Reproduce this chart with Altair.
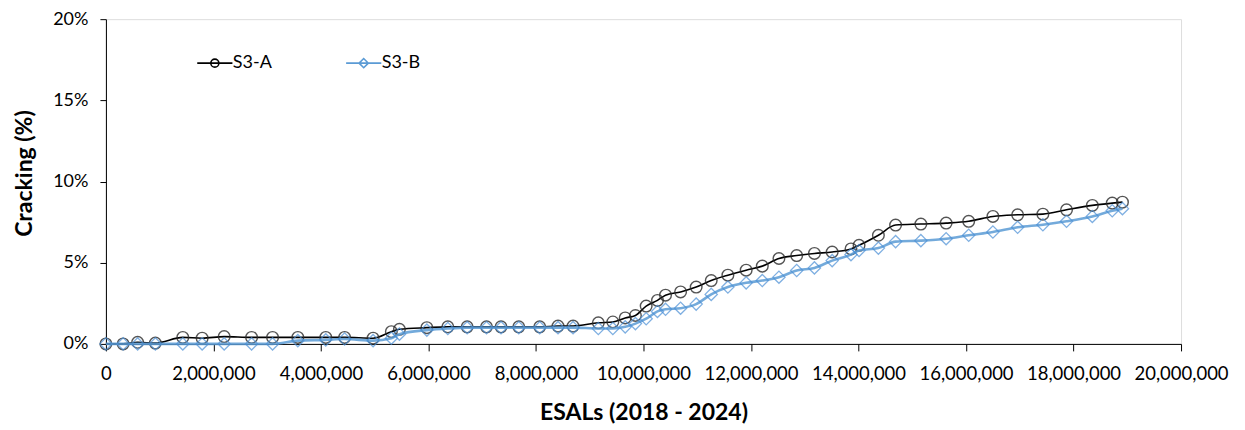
import altair as alt
import pandas as pd

# ESAL values (shared by both series)
esals = [0, 320000, 590000, 920000, 1430000, 1790000, 2200000, 2710000, 3100000,
         3570000, 4090000, 4440000, 4970000, 5310000, 5460000, 5970000, 6360000,
         6720000, 7080000, 7350000, 7680000, 8070000, 8410000, 8690000, 9160000,
         9430000, 9660000, 9850000, 10050000, 10260000, 10410000, 10690000,
         10980000, 11260000, 11570000, 11910000, 12210000, 12520000, 12850000,
         13180000, 13510000, 13860000, 14010000, 14370000, 14690000, 15160000,
         15630000, 16050000, 16500000, 16960000, 17430000, 17870000, 18350000,
         18720000, 18910000]

# Cracking (%) for S3-A
s3a = [0, 0, 0.1, 0.05, 0.4, 0.35, 0.45, 0.4, 0.4, 0.4, 0.4, 0.4, 0.35, 0.75,
       0.9, 1.0, 1.05, 1.05, 1.05, 1.05, 1.05, 1.05, 1.1, 1.1, 1.3, 1.35, 1.6,
       1.75, 2.33, 2.68, 3.0, 3.2, 3.5, 3.9, 4.23, 4.54, 4.79, 5.26, 5.44, 5.57,
       5.66, 5.85, 6.07, 6.69, 7.32, 7.38, 7.44, 7.55, 7.85, 7.95, 7.99, 8.26,
       8.53, 8.67, 8.73]

# Cracking (%) for S3-B
s3b = [0, 0, 0, 0, 0, 0, 0, 0, 0, 0.2, 0.25, 0.3, 0.2, 0.35, 0.6, 0.85, 0.95,
       1.0, 1.0, 1.0, 1.0, 1.0, 1.0, 1.0, 0.95, 0.95, 1.05, 1.25, 1.55, 2.0,
       2.13, 2.2, 2.45, 3.05, 3.5, 3.76, 3.9, 4.11, 4.52, 4.68, 5.13, 5.5, 5.75,
       5.9, 6.3, 6.36, 6.48, 6.69, 6.89, 7.18, 7.34, 7.55, 7.85, 8.2, 8.33]

series_names = ["S3-A", "S3-B"]
series_colors = ["#000000", "#5B9BD5"]
x_ticks = list(range(0, 20000001, 2000000))
y_ticks = [0, 5, 10, 15, 20]

rows = []
for e, a, b in zip(esals, s3a, s3b):
    rows.append({"esal": e, "crack": a, "series": "S3-A"})
    rows.append({"esal": e, "crack": b, "series": "S3-B"})
df = pd.DataFrame(rows)

FONT = "Lato"

x_enc = alt.X(
    "esal:Q",
    scale=alt.Scale(domain=[0, 20000000], nice=False, zero=True),
    axis=alt.Axis(
        values=x_ticks, format=",.0f", title="ESALs (2018 - 2024)", grid=False,
        domainColor="black", tickColor="black", tickSize=7, labelPadding=14,
        labelFont=FONT, labelFontSize=18.5, labelColor="black",
        labelOverlap=False, labelFlush=False, labelBound=False,
        titleFont=FONT, titleFontSize=23, titleFontWeight="bold",
        titleColor="black", titlePadding=18,
    ),
)
y_enc = alt.Y(
    "crack:Q",
    scale=alt.Scale(domain=[0, 20], nice=False),
    axis=alt.Axis(
        values=y_ticks, labelExpr="datum.value + '%'", title="Cracking (%)",
        grid=False, domainColor="black", tickColor="black", tickSize=6,
        labelPadding=12, labelFont=FONT, labelFontSize=18, labelColor="black",
        titleFont=FONT, titleFontSize=23, titleFontWeight="bold",
        titleColor="black", titleAngle=-90, titleX=-81, titleY=154,
        titleBaseline="middle", titleAlign="center",
    ),
)

base = alt.Chart(df)

line_a = base.transform_filter(alt.datum.series == "S3-A").mark_line(
    interpolate="monotone", color="#000000", strokeWidth=1.6
).encode(x=x_enc, y=y_enc)
pts_a = base.transform_filter(alt.datum.series == "S3-A").mark_point(
    shape="circle", size=135, filled=False, color="#2b2b2b", strokeWidth=1.4,
    opacity=0.8
).encode(x=x_enc, y=y_enc)
line_b = base.transform_filter(alt.datum.series == "S3-B").mark_line(
    interpolate="monotone", color="#5B9BD5", strokeWidth=2.6, opacity=0.85
).encode(x=x_enc, y=y_enc)
pts_b = base.transform_filter(alt.datum.series == "S3-B").mark_point(
    shape="diamond", size=150, filled=False, color="#4A8FD6", strokeWidth=1.3
).encode(x=x_enc, y=y_enc)

path_a = "M-4.4,0H4.4M1,0A1,1,0,1,1,-1,0A1,1,0,1,1,1,0"
path_b = "M-4.4,0H4.4M-1.15,0L0,-1.15L1.15,0L0,1.15Z"

legend_opts = dict(
    orient="none", legendX=100, legendY=35, direction="horizontal",
    title=None, symbolSize=64, symbolStrokeWidth=1.6, symbolOpacity=1,
    labelFont=FONT, labelFontSize=18, labelColor="black", labelOffset=9,
    columnPadding=70, padding=0,
)

legend_layer = base.mark_point(opacity=0, filled=False).encode(
    x=x_enc, y=y_enc,
    color=alt.Color("series:N", scale=alt.Scale(domain=series_names, range=series_colors),
                    legend=alt.Legend(**legend_opts)),
    shape=alt.Shape("series:N", scale=alt.Scale(domain=series_names, range=[path_a, path_b]),
                    legend=alt.Legend(**legend_opts)),
)

chart = alt.layer(line_a, pts_a, line_b, pts_b, legend_layer).properties(
    width=1076, height=325,
    autosize=alt.AutoSizeParams(type="none"),
    padding={"left": 98, "top": 11, "right": 56, "bottom": 84},
).configure_view(stroke=None).configure(background="white")

chart.save("out.html", embed_options={"renderer": "svg", "actions": False})
